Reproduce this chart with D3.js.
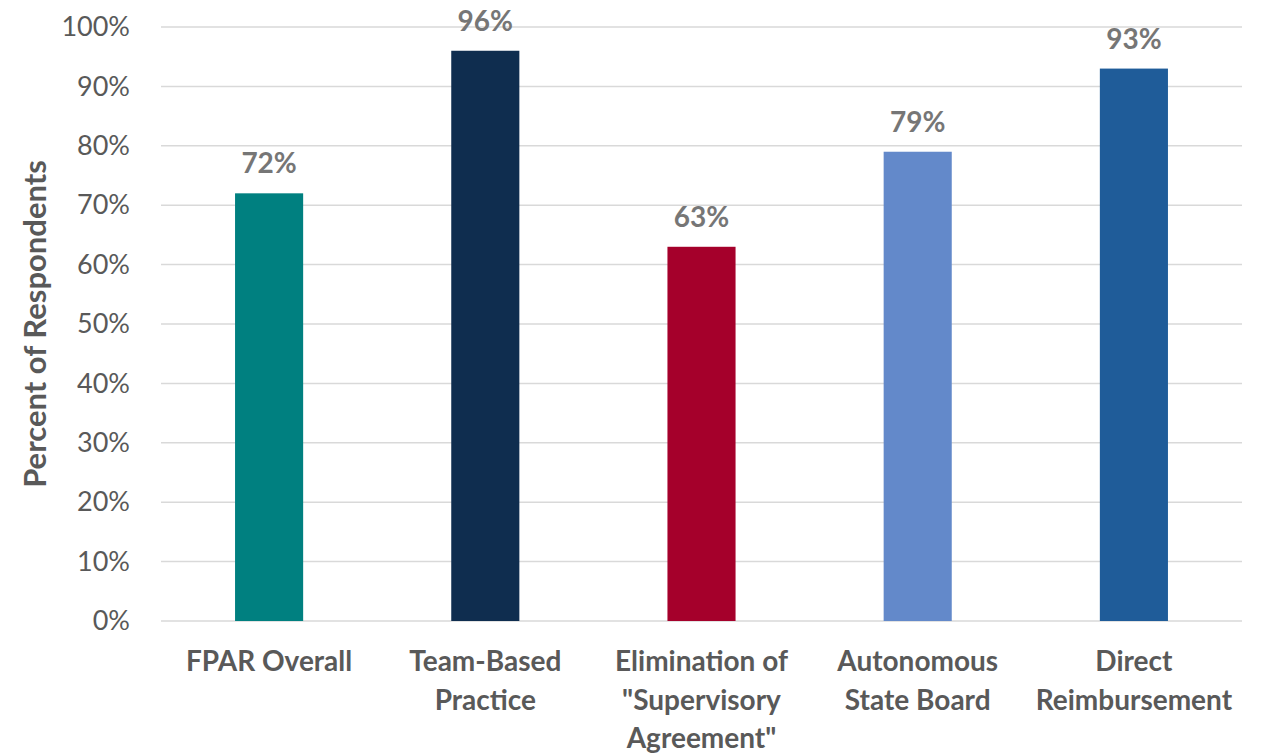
<!DOCTYPE html>
<html>
<head>
<meta charset="utf-8">
<script src="https://cdn.jsdelivr.net/npm/d3@7"></script>
<style>
  body { margin: 0; background: #fff; }
  svg text { font-family: Lato, "Open Sans", sans-serif; }
</style>
</head>
<body>
<svg id="viz"></svg>
<script>
// ----------------------- DATA
const categories = [
  'FPAR Overall',
  'Team-Based|Practice',
  'Elimination of|"Supervisory|Agreement"',
  'Autonomous|State Board',
  'Direct|Reimbursement'
];
const values = [72, 96, 63, 79, 93];
const barColors = ['#008080', '#0f2d4f', '#a5002b', '#6389ca', '#1f5c99'];
const yTicks = [0, 10, 20, 30, 40, 50, 60, 70, 80, 90, 100];

// ----------------------- SETTINGS
const W = 1261, H = 755;
const margin = { top: 27, right: 19, bottom: 134, left: 161 };
const width = W - margin.left - margin.right;
const height = H - margin.top - margin.bottom;

const svg = d3.select('#viz').attr('width', W).attr('height', H);
const chart = svg.append('g').attr('transform', `translate(${margin.left}, ${margin.top})`);

const x = d3.scaleBand().domain(categories).range([0, width]).padding(0);
const y = d3.scaleLinear().domain([0, 100]).range([height, 0]);
const barW = x.bandwidth() * 0.315;

// gridlines
chart.append('g')
  .selectAll('line')
  .data(yTicks)
  .enter().append('line')
  .attr('x1', 0).attr('x2', width)
  .attr('y1', d => y(d)).attr('y2', d => y(d))
  .attr('stroke', '#d9d9d9')
  .attr('stroke-width', 1.5);

// y axis labels
const yAxis = d3.axisLeft(y).tickValues(yTicks).tickFormat(d => d + '%').tickSize(0).tickPadding(31);
chart.append('g')
  .call(yAxis)
  .call(g => g.select('.domain').remove())
  .selectAll('text')
  .attr('fill', '#595959')
  .style('font-size', '27px');

// axis title
svg.append('text')
  .attr('transform', `translate(46, ${margin.top + height / 2}) rotate(-90)`)
  .attr('text-anchor', 'middle')
  .attr('fill', '#595959')
  .style('font-size', '31px')
  .style('font-weight', 'bold')
  .text('Percent of Respondents');

// bars
chart.selectAll('.bar')
  .data(values)
  .enter().append('rect')
  .attr('class', 'bar')
  .attr('x', (d, i) => x(categories[i]) + (x.bandwidth() - barW) / 2)
  .attr('y', d => y(d))
  .attr('width', barW)
  .attr('height', d => height - y(d))
  .attr('fill', (d, i) => barColors[i]);

// value labels
chart.selectAll('.val')
  .data(values)
  .enter().append('text')
  .attr('class', 'val')
  .attr('x', (d, i) => x(categories[i]) + x.bandwidth() / 2)
  .attr('y', d => y(d) - 20)
  .attr('text-anchor', 'middle')
  .attr('fill', '#767676')
  .style('font-size', '28px')
  .style('font-weight', 'bold')
  .text(d => d + '%');

// category labels
const cats = chart.selectAll('.cat')
  .data(categories)
  .enter().append('text')
  .attr('class', 'cat')
  .attr('x', d => x(d) + x.bandwidth() / 2)
  .attr('y', height + 50)
  .attr('text-anchor', 'middle')
  .attr('fill', '#595959')
  .style('font-size', '28px')
  .style('font-weight', 'bold');

cats.selectAll('tspan')
  .data(d => d.split('|'))
  .enter().append('tspan')
  .attr('x', function () { return d3.select(this.parentNode).attr('x'); })
  .attr('dy', (d, i) => i === 0 ? 0 : 38.5)
  .text(d => d);
</script>
</body>
</html>
